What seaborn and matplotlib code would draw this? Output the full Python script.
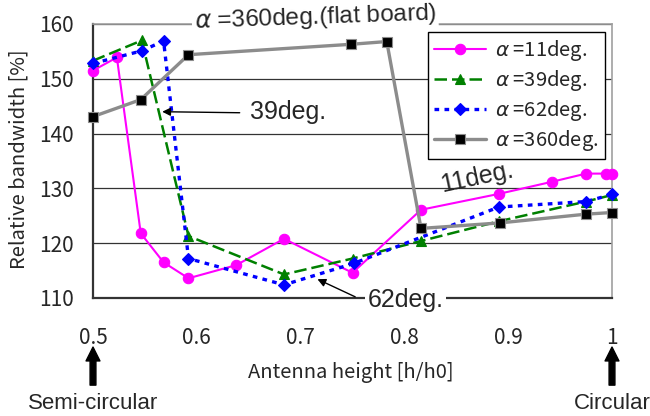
import matplotlib
matplotlib.use('Agg')
import matplotlib.pyplot as plt
import seaborn as sns
import pandas as pd

# ---- data ----
x_11 = [0.500, 0.523, 0.546, 0.568, 0.592, 0.638, 0.684, 0.750, 0.816, 0.891, 0.942, 0.975, 0.994, 1.000]
y_11 = [151.5, 153.9, 121.8, 116.5, 113.6, 116.0, 120.8, 114.6, 126.1, 129.0, 131.2, 132.7, 132.7, 132.7]

x_39 = [0.500, 0.547, 0.592, 0.684, 0.750, 0.816, 0.891, 0.975, 1.000]
y_39 = [153.3, 157.0, 121.3, 114.3, 117.2, 120.4, 124.0, 127.6, 128.8]

x_62 = [0.500, 0.547, 0.568, 0.592, 0.684, 0.751, 0.891, 0.975, 1.000]
y_62 = [152.8, 155.1, 156.9, 117.2, 112.4, 116.3, 126.6, 127.6, 128.9]

x_360 = [0.500, 0.546, 0.592, 0.749, 0.783, 0.816, 0.892, 0.975, 1.000]
y_360 = [143.1, 146.2, 154.4, 156.3, 156.8, 122.7, 123.7, 125.3, 125.6]

labels = [r'$\alpha$ =11deg.', r'$\alpha$ =39deg.', r'$\alpha$ =62deg.', r'$\alpha$ =360deg.']
x_ticks = [0.5, 0.6, 0.7, 0.8, 0.9, 1.0]
x_ticklabels = ['0.5', '0.6', '0.7', '0.8', '0.9', '1']
y_ticks = [110, 120, 130, 140, 150, 160]

sns.set_style('white')
plt.rcParams['font.family'] = ['Noto Sans CJK JP', 'DejaVu Sans']
plt.rcParams['mathtext.fontset'] = 'dejavusans'

fig = plt.figure(figsize=(6.5, 4.16), dpi=100)
ax = fig.add_axes([93 / 650, 1 - 298 / 416, 519 / 650, 274 / 416])

styles = [
    dict(color='#ff00ff', linestyle='-', linewidth=1.5, marker='o', markersize=7.5),
    dict(color='#008000', linestyle=(0, (5, 2)), linewidth=1.8, marker='^', markersize=7.5),
    dict(color='#0000ff', linestyle=(0, (1.4, 1.6)), linewidth=2.4, marker='D', markersize=5.8),
    dict(color='#8c8c8c', linestyle='-', linewidth=2.4, marker='s', markersize=7.2,
         markerfacecolor='black', markeredgecolor='#8c8c8c'),
]
series = [(x_11, y_11), (x_39, y_39), (x_62, y_62), (x_360, y_360)]

for (xs, ys), lab, st in zip(series, labels, styles):
    df = pd.DataFrame({'h': xs, 'bw': ys})
    st = dict(st)
    st.setdefault('markerfacecolor', st['color'])
    st.setdefault('markeredgecolor', st['color'])
    sns.lineplot(data=df, x='h', y='bw', ax=ax, estimator=None, sort=False,
                 label=lab, clip_on=False, markeredgewidth=0.8, zorder=3, **st)

ax.set_xlim(0.5, 1.0)
ax.set_ylim(110, 160)
ax.set_xticks(x_ticks)
ax.set_xticklabels(x_ticklabels)
ax.set_yticks(y_ticks)
ax.tick_params(axis='x', direction='in', length=8, width=1, pad=21, labelsize=15, color='#333333')
ax.tick_params(axis='y', direction='in', length=4, width=1, pad=14, labelsize=15, color='#333333')

ax.grid(axis='y', color='#333333', linewidth=0.9)
ax.grid(axis='x', visible=False)
ax.set_axisbelow(True)
for side in ['left', 'bottom']:
    ax.spines[side].set_color('#333333')
    ax.spines[side].set_linewidth(1.6)
for side in ['top', 'right']:
    ax.spines[side].set_color('#a0a0a0')
    ax.spines[side].set_linewidth(1.2)

ax.set_xlabel('Antenna height [h/h0]', fontsize=14.5)
ax.set_ylabel('Relative bandwidth [%]', fontsize=14.5)
ax.xaxis.set_label_coords(0.497, -0.232)
ax.yaxis.set_label_coords(-0.122, 0.507)

leg = ax.legend(loc='upper right', bbox_to_anchor=(0.986, 0.972), fontsize=14.5,
                frameon=True, fancybox=False, edgecolor='black', framealpha=1,
                handlelength=2.6, handletextpad=0.45, labelspacing=0.25,
                borderpad=0.3, borderaxespad=0)
leg.get_frame().set_linewidth(1.0)
leg.set_zorder(5)

ann_font = ['Liberation Sans', 'DejaVu Sans']
ax.text(0.714, 161.1, r'$\alpha$ =360deg.(flat board)', fontsize=17.5, family=ann_font,
        ha='center', va='center', rotation=2, zorder=6,
        bbox=dict(facecolor='white', edgecolor='none', pad=1.5), clip_on=False)

ax.text(0.688, 143.9, '39deg.', fontsize=18, family=ann_font, ha='center', va='center', zorder=6)
ax.annotate('', xy=(0.564, 144.0), xytext=(0.644, 143.8),
            arrowprops=dict(arrowstyle='-|>', color='black', lw=1.0, mutation_scale=12), zorder=6)

ax.text(0.870, 131.9, '11deg.', fontsize=18, family=ann_font, ha='center', va='center',
        rotation=12, zorder=6)

ax.text(0.801, 109.6, '62deg.', fontsize=18, family=ann_font, ha='center', va='center', zorder=6,
        bbox=dict(facecolor='white', edgecolor='none', pad=2), clip_on=False)
ax.annotate('', xy=(0.7138, 113.65), xytext=(0.755, 110.0),
            arrowprops=dict(arrowstyle='-|>', color='black', lw=1.0, mutation_scale=12),
            zorder=7, annotation_clip=False)

xt = ax.get_xaxis_transform()
for xpos, txt in [(0.5, 'Semi-circular'), (1.0, 'Circular')]:
    ax.annotate('', xy=(xpos, -0.179), xytext=(xpos, -0.318), xycoords=xt, textcoords=xt,
                arrowprops=dict(facecolor='black', edgecolor='black', width=4.2,
                                headwidth=10, headlength=10, shrink=0),
                annotation_clip=False)
    ax.text(xpos, -0.385, txt, transform=xt, fontsize=16, family=ann_font,
            ha='center', va='center', clip_on=False)

fig.savefig('out.png', dpi=100)
